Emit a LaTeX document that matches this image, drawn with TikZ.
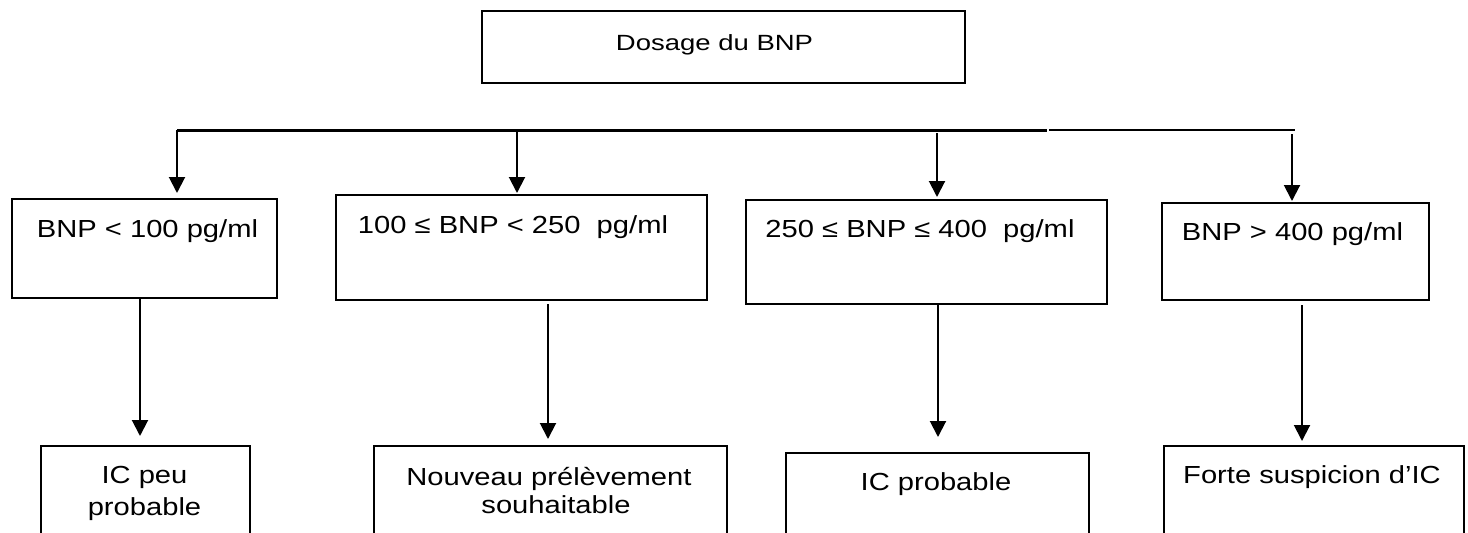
\documentclass[tikz,border=0pt]{standalone}
\usepackage{fontspec}
\setmainfont{Liberation Sans}
\usetikzlibrary{arrows.meta}
\newcommand{\wtxt}[1]{\scalebox{1.18}[1]{#1}}
\tikzset{
  box/.style={draw=black, line width=2pt, rectangle, anchor=north west, inner sep=0pt},
  txt/.style={anchor=base, inner sep=0pt, font=\fontsize{24.7}{30}\selectfont},
  toptxt/.style={anchor=base, inner sep=0pt, font=\fontsize{22}{26}\selectfont},
  arr/.style={draw=black, line width=2pt, -{Triangle[width=16pt,length=16pt]}},
}
\begin{document}
\begin{tikzpicture}[x=1pt,y=-1pt]
\useasboundingbox (0,0) rectangle (1468,533);
\clip (0,0) rectangle (1468,533);
\fill[white] (0,0) rectangle (1468,533);

% top box
\node[box, minimum width=483pt, minimum height=72pt] (top) at (481,10) {};
\node[toptxt] (ttop) at (714.5,50) {\scalebox{1.25}[1]{Dosage du BNP}};

% horizontal bar
\coordinate (h0) at (177,130);
\coordinate (h1) at (1047,130);
\coordinate (h2) at (1049,130);
\coordinate (h3) at (1295,130);
\draw[line width=3pt] (h0) -- (h1);
\draw[line width=2pt] (h2) -- (h3);

% second row boxes
\node[box, minimum width=265pt, minimum height=99pt] (b1) at (11,198) {};
\node[box, minimum width=371pt, minimum height=105pt] (b2) at (335,194) {};
\node[box, minimum width=361pt, minimum height=104pt] (b3) at (745,199) {};
\node[box, minimum width=267pt, minimum height=97pt] (b4) at (1161,202) {};

\node[txt] (t1) at (147.5,237) {\wtxt{BNP < 100 pg/ml}};
\node[txt] (t2) at (513,233) {\wtxt{100 ≤ BNP < 250 \ pg/ml}};
\node[txt] (t3) at (920,237) {\wtxt{250 ≤ BNP ≤ 400 \ pg/ml}};
\node[txt] (t4) at (1292.5,240) {\wtxt{BNP > 400 pg/ml}};

% arrows from bar
\coordinate (a1) at (177,193);
\coordinate (a2) at (517,193);
\coordinate (a3) at (937,197);
\coordinate (a4) at (1292,201);
\draw[arr] (h0) -- (a1);
\draw[arr] (a2 |- h0) -- (a2);
\draw[arr] ([yshift=-3pt]a3 |- h0) -- (a3);
\draw[arr] ([yshift=-4pt]a4 |- h0) -- (a4);

% bottom boxes
\node[box, minimum width=209pt, minimum height=130pt] (c1) at (40,445) {};
\node[box, minimum width=353pt, minimum height=130pt] (c2) at (373,445) {};
\node[box, minimum width=303pt, minimum height=130pt] (c3) at (785,452) {};
\node[box, minimum width=300pt, minimum height=130pt] (c4) at (1163,445) {};

\node[txt] (u1a) at (144.5,483) {\wtxt{IC peu}};
\node[txt] (u1b) at (144.5,515) {\wtxt{probable}};
\node[txt] (u2a) at (549,485) {\wtxt{Nouveau prélèvement}};
\node[txt] (u2b) at (556,513) {\wtxt{souhaitable}};
\node[txt] (u3) at (936,490) {\wtxt{IC probable}};
\node[txt] (u4) at (1312,483) {\wtxt{Forte suspicion d’IC}};

% arrows down
\coordinate (d1) at (140,436);
\coordinate (d2) at (548,439);
\coordinate (d3) at (938,437);
\coordinate (d4) at (1302,441);
\draw[arr] (b1.south -| d1) -- (d1);
\draw[arr] ([yshift=-3pt]b2.south -| d2) -- (d2);
\draw[arr] (b3.south -| d3) -- (d3);
\draw[arr] ([yshift=-4pt]b4.south -| d4) -- (d4);
\end{tikzpicture}
\end{document}
